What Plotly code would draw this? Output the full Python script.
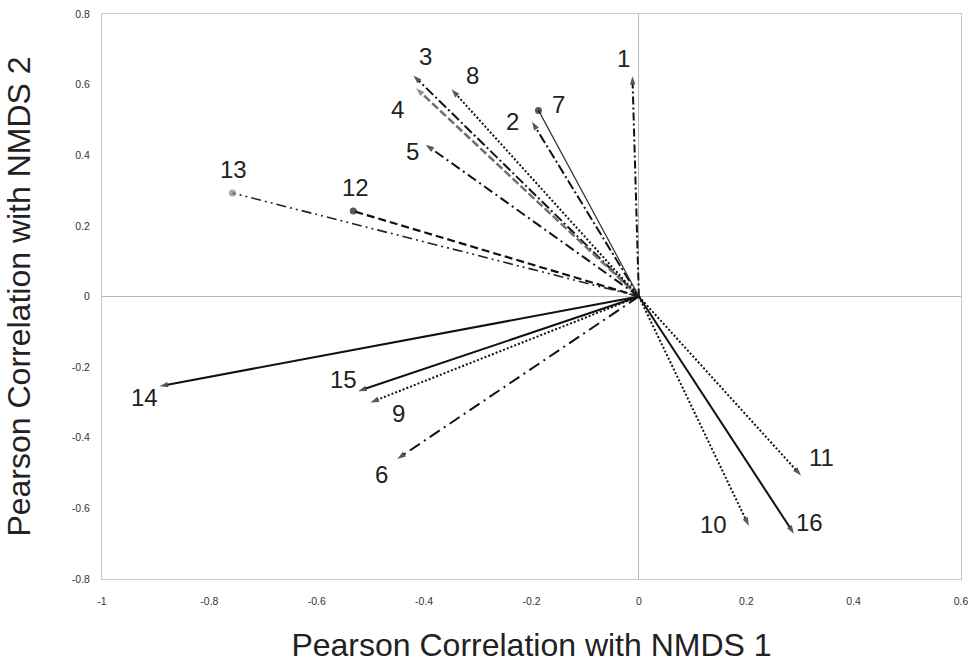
import plotly.graph_objects as go

# ---- data ----
labels = ["1", "2", "3", "4", "5", "6", "7", "8", "9", "10", "11", "12", "13", "14", "15", "16"]
nmds1 = [-0.012, -0.199, -0.420, -0.415, -0.397, -0.450, -0.187, -0.349, -0.500, 0.205, 0.302, -0.532, -0.757, -0.893, -0.523, 0.289]
nmds2 = [0.624, 0.495, 0.626, 0.590, 0.430, -0.460, 0.527, 0.587, -0.300, -0.650, -0.507, 0.242, 0.293, -0.254, -0.268, -0.672]
x_ticks = [-1, -0.8, -0.6, -0.4, -0.2, 0, 0.2, 0.4, 0.6]
y_ticks = [-0.8, -0.6, -0.4, -0.2, 0, 0.2, 0.4, 0.6, 0.8]
x_ticktext = ["-1", "-0.8", "-0.6", "-0.4", "-0.2", "0", "0.2", "0.4", "0.6"]
y_ticktext = ["-0.8", "-0.6", "-0.4", "-0.2", "0", "0.2", "0.4", "0.6", "0.8"]

# ---- styles (per vector) ----
dashes = ["8px,3px,2px,3px", "10px,3px,2px,3px", "10px,3px,2px,3px", "8px,3px",
          "10px,4px,2px,4px", "12px,5px,2px,5px", "solid", "2px,2px",
          "2px,2px", "2px,2px", "2px,2px", "8px,4px",
          "10px,4px,2px,4px,2px,4px", "solid", "solid", "solid"]
colors = ["#111", "#111", "#111", "#707070", "#111", "#111", "#333", "#111",
          "#111", "#111", "#111", "#111", "#222", "#111", "#111", "#111"]
widths = [2, 2, 2, 2.5, 2, 2, 1.2, 2, 2, 2, 2, 2.2, 1.6, 2, 2, 2]
tips = ["arrow", "arrow", "arrow", "arrow", "arrow", "arrow", "circle", "arrow",
        "arrow", "arrow", "arrow", "circle", "circle", "arrow", "arrow", "arrow"]
tipcolors = ["#111"] * 3 + ["#606060"] + ["#111"] * 8 + ["#808080"] + ["#111"] * 3
label_dx = [-9, -20, 12, -19, -13, -16, 20, 21, 28, -35, 20, 2, 1, -15, -15, 15]
label_dy = [-18, 0, -19, 21, 7, 16, -6, -14, 11, -2, -18, -24, -24, 11, -12, -11]

FONT = "Liberation Sans, Arial, sans-serif"

fig = go.Figure()
for i, lab in enumerate(labels):
    sym = tips[i]
    fig.add_trace(go.Scatter(
        x=[0, nmds1[i]], y=[0, nmds2[i]],
        mode="lines+markers",
        line=dict(color=colors[i], width=widths[i], dash=dashes[i]),
        marker=dict(symbol=["circle", sym], size=[0, 9 if sym == "arrow" else 7],
                    angleref="previous", color=tipcolors[i], line=dict(width=0)),
        hoverinfo="skip", showlegend=False,
    ))
    fig.add_annotation(x=nmds1[i], y=nmds2[i], text=lab, showarrow=False,
                       xshift=label_dx[i], yshift=-label_dy[i],
                       font=dict(family=FONT, size=24, color="#222"))

axis_common = dict(showgrid=False, zeroline=True, zerolinecolor="#b8b8b8", zerolinewidth=1,
                   showline=True, mirror=True, linecolor="#c8c8c8", linewidth=1,
                   ticks="", automargin=False, ticklabeloverflow="allow",
                   tickfont=dict(family=FONT, size=10.5, color="#333"))

fig.update_xaxes(range=[-1, 0.6], tickvals=x_ticks, ticktext=x_ticktext,
                 title=dict(text="Pearson Correlation with NMDS 1", standoff=33,
                            font=dict(family=FONT, size=32, color="#222")),
                 ticklabelstandoff=12, **axis_common)
fig.update_yaxes(range=[-0.8, 0.8], tickvals=y_ticks, ticktext=y_ticktext,
                 title=dict(text="Pearson Correlation with NMDS 2", standoff=31,
                            font=dict(family=FONT, size=32, color="#222")),
                 ticklabelstandoff=9, **axis_common)

fig.update_layout(width=973, height=663, margin=dict(l=102, r=12, t=14, b=84),
                  paper_bgcolor="white", plot_bgcolor="white")
fig.write_html("out.html", config={"displayModeBar": False},
               post_script="document.body.style.margin='0';document.body.style.overflow='hidden';")
